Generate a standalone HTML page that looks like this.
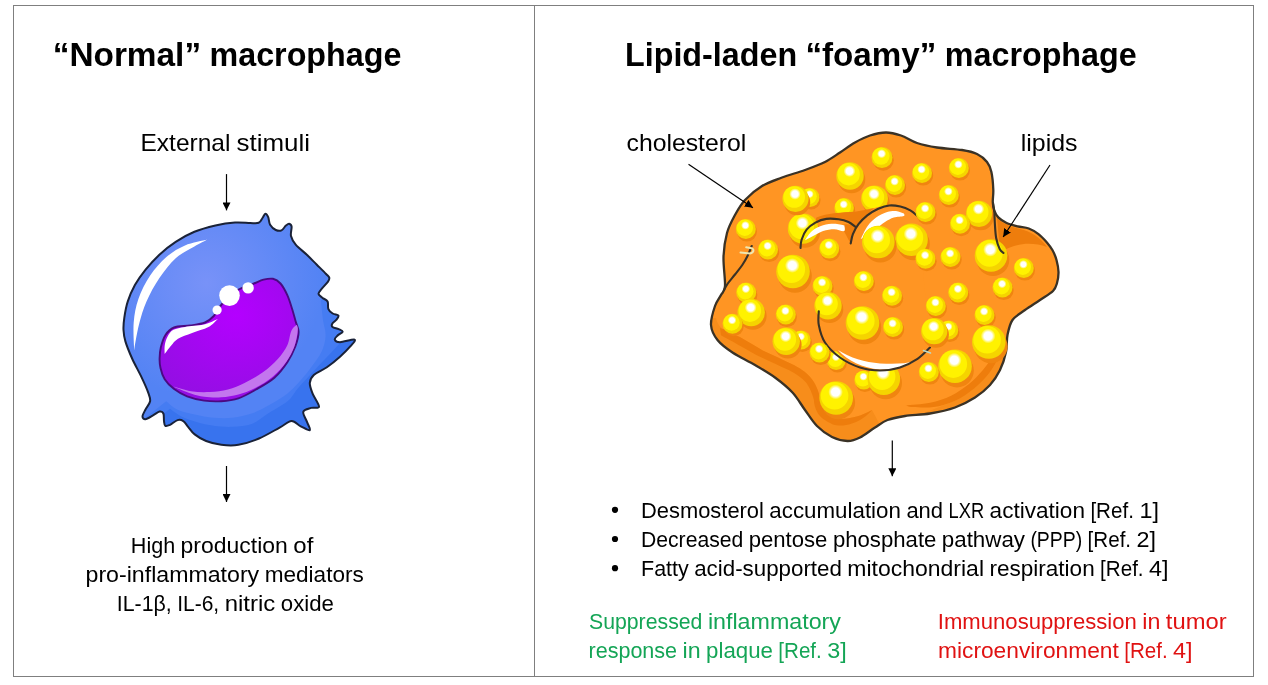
<!DOCTYPE html>
<html lang="en">
<head>
<meta charset="utf-8">
<title>Normal vs lipid-laden foamy macrophage</title>
<style>
html,body{margin:0;padding:0;background:#fff;}
body{width:1268px;height:685px;overflow:hidden;}
svg{display:block;}
text{font-family:"Liberation Sans",Arial,sans-serif;fill:#000;}
.t{font-weight:bold;font-size:33px;}
.l{font-size:24px;}
.b{font-size:21.2px;}
.g{fill:#14a556;}
.r{fill:#e01212;}
</style>
</head>
<body>
<svg width="1268" height="685" viewBox="0 0 1268 685">
<defs>
<radialGradient id="cellg" cx="0.36" cy="0.3" r="0.5"><stop offset="0" stop-color="#7892f8"/><stop offset="1" stop-color="#5383f4"/></radialGradient>
<radialGradient id="nucg" cx="0.55" cy="0.3" r="0.8"><stop offset="0" stop-color="#b400ff"/><stop offset="1" stop-color="#9010e0"/></radialGradient>
<radialGradient id="wh" cx="0.5" cy="0.5" r="0.5"><stop offset="0.55" stop-color="#fff"/><stop offset="1" stop-color="#fff" stop-opacity="0"/></radialGradient>
<marker id="ah" viewBox="0 0 10 10" refX="10" refY="5" markerWidth="8" markerHeight="8" markerUnits="userSpaceOnUse" orient="auto"><path d="M0 0L10 5L0 10Z" fill="#000"/></marker>
</defs>
<rect width="1268" height="685" fill="#fff"/>
<rect x="13.5" y="5.5" width="1240" height="671" fill="none" stroke="#7f7f7f" stroke-width="1"/>
<line x1="534.5" y1="5.5" x2="534.5" y2="676.5" stroke="#7f7f7f" stroke-width="1"/>
<text class="t" y="66"><tspan x="52.7" textLength="148.4" lengthAdjust="spacingAndGlyphs">“Normal”</tspan> <tspan x="209.5" textLength="191.9" lengthAdjust="spacingAndGlyphs">macrophage</tspan></text>
<text class="l" y="150.7"><tspan x="140.5" textLength="89.9" lengthAdjust="spacingAndGlyphs">External</tspan> <tspan x="236.5" textLength="73.5" lengthAdjust="spacingAndGlyphs">stimuli</tspan></text>
<text class="b" y="553"><tspan x="130.8" textLength="44.4" lengthAdjust="spacingAndGlyphs">High</tspan> <tspan x="180.6" textLength="107.2" lengthAdjust="spacingAndGlyphs">production</tspan> <tspan x="293.3" textLength="20.0" lengthAdjust="spacingAndGlyphs">of</tspan></text>
<text class="b" y="581.8"><tspan x="85.5" textLength="173.7" lengthAdjust="spacingAndGlyphs">pro-inflammatory</tspan> <tspan x="264.7" textLength="99.1" lengthAdjust="spacingAndGlyphs">mediators</tspan></text>
<text class="b" y="610.6"><tspan x="116.8" textLength="54.9" lengthAdjust="spacingAndGlyphs">IL-1β,</tspan> <tspan x="177.2" textLength="42.0" lengthAdjust="spacingAndGlyphs">IL-6,</tspan> <tspan x="224.7" textLength="50.6" lengthAdjust="spacingAndGlyphs">nitric</tspan> <tspan x="280.8" textLength="53.1" lengthAdjust="spacingAndGlyphs">oxide</tspan></text>
<text class="t" y="66"><tspan x="625.0" textLength="172.1" lengthAdjust="spacingAndGlyphs">Lipid-laden</tspan> <tspan x="805.5" textLength="130.8" lengthAdjust="spacingAndGlyphs">“foamy”</tspan> <tspan x="944.8" textLength="191.9" lengthAdjust="spacingAndGlyphs">macrophage</tspan></text>
<text class="l" y="150.7"><tspan x="626.5" textLength="119.8" lengthAdjust="spacingAndGlyphs">cholesterol</tspan></text>
<text class="l" y="150.7"><tspan x="1020.8" textLength="56.8" lengthAdjust="spacingAndGlyphs">lipids</tspan></text>
<text class="b" y="518"><tspan x="641.0" textLength="122.9" lengthAdjust="spacingAndGlyphs">Desmosterol</tspan> <tspan x="769.3" textLength="131.6" lengthAdjust="spacingAndGlyphs">accumulation</tspan> <tspan x="906.4" textLength="36.7" lengthAdjust="spacingAndGlyphs">and</tspan> <tspan x="948.5" textLength="35.6" lengthAdjust="spacingAndGlyphs">LXR</tspan> <tspan x="989.6" textLength="95.4" lengthAdjust="spacingAndGlyphs">activation</tspan> <tspan x="1090.4" textLength="43.5" lengthAdjust="spacingAndGlyphs">[Ref.</tspan> <tspan x="1139.4" textLength="19.5" lengthAdjust="spacingAndGlyphs">1]</tspan></text>
<text class="b" y="546.9"><tspan x="641.0" textLength="102.3" lengthAdjust="spacingAndGlyphs">Decreased</tspan> <tspan x="748.7" textLength="78.7" lengthAdjust="spacingAndGlyphs">pentose</tspan> <tspan x="832.9" textLength="103.5" lengthAdjust="spacingAndGlyphs">phosphate</tspan> <tspan x="941.8" textLength="83.2" lengthAdjust="spacingAndGlyphs">pathway</tspan> <tspan x="1030.4" textLength="51.8" lengthAdjust="spacingAndGlyphs">(PPP)</tspan> <tspan x="1087.6" textLength="43.5" lengthAdjust="spacingAndGlyphs">[Ref.</tspan> <tspan x="1136.5" textLength="19.5" lengthAdjust="spacingAndGlyphs">2]</tspan></text>
<text class="b" y="575.8"><tspan x="641.0" textLength="47.8" lengthAdjust="spacingAndGlyphs">Fatty</tspan> <tspan x="694.2" textLength="147.7" lengthAdjust="spacingAndGlyphs">acid-supported</tspan> <tspan x="847.3" textLength="136.7" lengthAdjust="spacingAndGlyphs">mitochondrial</tspan> <tspan x="989.4" textLength="105.3" lengthAdjust="spacingAndGlyphs">respiration</tspan> <tspan x="1100.1" textLength="43.5" lengthAdjust="spacingAndGlyphs">[Ref.</tspan> <tspan x="1149.1" textLength="19.5" lengthAdjust="spacingAndGlyphs">4]</tspan></text>
<text class="b g" y="628.7"><tspan x="589.0" textLength="113.4" lengthAdjust="spacingAndGlyphs">Suppressed</tspan> <tspan x="707.9" textLength="133.1" lengthAdjust="spacingAndGlyphs">inflammatory</tspan></text>
<text class="b g" y="657.5"><tspan x="588.5" textLength="88.6" lengthAdjust="spacingAndGlyphs">response</tspan> <tspan x="682.5" textLength="18.1" lengthAdjust="spacingAndGlyphs">in</tspan> <tspan x="706.1" textLength="66.8" lengthAdjust="spacingAndGlyphs">plaque</tspan> <tspan x="778.3" textLength="43.5" lengthAdjust="spacingAndGlyphs">[Ref.</tspan> <tspan x="827.2" textLength="19.5" lengthAdjust="spacingAndGlyphs">3]</tspan></text>
<text class="b r" y="628.7"><tspan x="937.8" textLength="199.0" lengthAdjust="spacingAndGlyphs">Immunosuppression</tspan> <tspan x="1142.3" textLength="18.1" lengthAdjust="spacingAndGlyphs">in</tspan> <tspan x="1165.8" textLength="60.8" lengthAdjust="spacingAndGlyphs">tumor</tspan></text>
<text class="b r" y="657.5"><tspan x="938.0" textLength="180.8" lengthAdjust="spacingAndGlyphs">microenvironment</tspan> <tspan x="1124.2" textLength="43.5" lengthAdjust="spacingAndGlyphs">[Ref.</tspan> <tspan x="1173.1" textLength="19.5" lengthAdjust="spacingAndGlyphs">4]</tspan></text>
<circle cx="615" cy="509.8" r="3.1" fill="#000"/>
<circle cx="615" cy="539" r="3.1" fill="#000"/>
<circle cx="615" cy="568.2" r="3.1" fill="#000"/>
<g id="normal-macrophage">
<path d="M123.5 330.0C123.3 326.1 123.6 322.6 124.3 317.8C125.0 313.0 126.0 306.8 127.8 301.4C129.6 295.9 132.0 290.4 134.9 285.1C137.8 279.9 141.3 275.0 145.4 269.9C149.5 264.8 154.4 259.4 159.4 254.7C164.4 250.0 169.9 245.7 175.7 241.9C181.5 238.1 187.8 234.5 194.4 231.8C201.0 229.1 208.6 227.1 215.4 225.5C222.2 223.9 229.2 222.9 235.0 222.5C240.8 222.1 246.2 222.9 250.2 223.0C254.1 223.1 256.6 223.6 258.7 222.8C260.8 222.0 261.4 219.5 262.5 218.0C263.6 216.5 264.4 213.8 265.4 213.7C266.3 213.5 267.4 215.3 268.2 217.1C269.0 218.9 268.8 222.5 270.1 224.7C271.4 226.8 273.9 229.1 275.8 230.0C277.7 230.9 279.8 231.1 281.5 230.4C283.2 229.7 284.6 226.7 285.9 225.6C287.2 224.5 288.2 223.5 289.1 223.7C290.1 223.9 291.3 224.5 291.6 226.6C291.9 228.7 290.3 233.1 291.0 236.1C291.7 239.1 293.0 241.4 295.7 244.6C298.4 247.8 303.6 251.7 307.1 255.0C310.6 258.3 313.4 261.3 316.6 264.5C319.8 267.7 324.0 271.8 326.1 274.0C328.2 276.2 329.0 276.5 329.3 277.8C329.6 279.1 329.3 279.7 328.0 281.6C326.7 283.5 323.0 287.1 321.4 289.2C319.8 291.2 318.4 292.5 318.5 293.9C318.6 295.3 320.8 296.4 322.3 297.7C323.8 299.0 326.6 299.6 327.6 301.5C328.6 303.4 327.5 307.1 328.4 309.1C329.2 311.1 331.0 312.4 332.7 313.5C334.4 314.6 337.8 314.5 338.4 315.5C339.0 316.5 337.5 318.3 336.5 319.6C335.5 320.9 333.1 322.3 332.4 323.5C331.7 324.7 331.4 326.1 332.5 327.0C333.6 327.9 337.0 328.3 338.7 329.1C340.4 329.9 342.9 330.6 342.7 331.7C342.5 332.8 338.7 334.4 337.4 335.7C336.1 337.0 334.4 338.5 334.8 339.6C335.2 340.7 336.7 342.2 340.0 342.2C343.3 342.2 352.8 338.9 354.5 339.6C356.2 340.3 352.9 343.4 350.5 346.2C348.1 349.0 343.9 353.2 340.0 356.7C336.1 360.2 331.3 364.1 326.9 367.2C322.5 370.2 316.6 372.4 313.8 375.0C311.0 377.6 310.0 379.8 309.8 382.9C309.6 386.0 311.0 389.4 312.5 393.4C314.0 397.3 319.2 404.2 319.0 406.6C318.8 409.0 313.8 407.0 311.2 407.9C308.6 408.8 304.0 409.4 303.3 411.8C302.6 414.2 306.1 419.2 307.2 422.3C308.3 425.4 310.9 429.5 309.8 430.2C308.7 430.9 303.8 427.8 300.7 426.3C297.6 424.8 295.0 420.8 291.5 421.0C288.0 421.2 285.0 424.7 279.6 427.6C274.2 430.5 265.9 435.6 259.0 438.5C252.1 441.4 244.7 443.8 238.4 444.8C232.1 445.9 226.7 445.4 221.3 444.8C215.9 444.2 210.5 442.7 206.1 441.0C201.7 439.3 197.7 436.8 194.7 434.4C191.7 432.0 190.0 429.0 188.1 426.8C186.2 424.6 185.1 422.2 183.3 421.1C181.6 420.0 179.8 419.5 177.6 420.1C175.4 420.7 172.1 423.9 170.0 424.9C167.9 425.8 166.3 426.4 165.3 425.8C164.3 425.2 164.3 423.2 164.0 421.1C163.7 419.1 164.1 415.1 163.4 413.5C162.7 411.9 161.3 411.3 159.6 411.6C157.9 411.9 155.4 414.1 153.0 415.4C150.6 416.7 147.2 419.0 145.4 419.2C143.7 419.4 142.5 418.0 142.5 416.4C142.5 414.8 144.1 412.2 145.4 409.7C146.7 407.2 149.6 404.0 150.1 401.2C150.6 398.4 149.6 396.6 148.2 392.6C146.8 388.6 144.3 383.1 141.6 377.4C138.9 371.7 134.8 364.5 132.1 358.5C129.4 352.5 126.8 346.1 125.4 341.4C124.0 336.6 123.7 333.9 123.5 330.0Z" fill="url(#cellg)"/>
<clipPath id="cc"><path d="M123.5 330.0C123.3 326.1 123.6 322.6 124.3 317.8C125.0 313.0 126.0 306.8 127.8 301.4C129.6 295.9 132.0 290.4 134.9 285.1C137.8 279.9 141.3 275.0 145.4 269.9C149.5 264.8 154.4 259.4 159.4 254.7C164.4 250.0 169.9 245.7 175.7 241.9C181.5 238.1 187.8 234.5 194.4 231.8C201.0 229.1 208.6 227.1 215.4 225.5C222.2 223.9 229.2 222.9 235.0 222.5C240.8 222.1 246.2 222.9 250.2 223.0C254.1 223.1 256.6 223.6 258.7 222.8C260.8 222.0 261.4 219.5 262.5 218.0C263.6 216.5 264.4 213.8 265.4 213.7C266.3 213.5 267.4 215.3 268.2 217.1C269.0 218.9 268.8 222.5 270.1 224.7C271.4 226.8 273.9 229.1 275.8 230.0C277.7 230.9 279.8 231.1 281.5 230.4C283.2 229.7 284.6 226.7 285.9 225.6C287.2 224.5 288.2 223.5 289.1 223.7C290.1 223.9 291.3 224.5 291.6 226.6C291.9 228.7 290.3 233.1 291.0 236.1C291.7 239.1 293.0 241.4 295.7 244.6C298.4 247.8 303.6 251.7 307.1 255.0C310.6 258.3 313.4 261.3 316.6 264.5C319.8 267.7 324.0 271.8 326.1 274.0C328.2 276.2 329.0 276.5 329.3 277.8C329.6 279.1 329.3 279.7 328.0 281.6C326.7 283.5 323.0 287.1 321.4 289.2C319.8 291.2 318.4 292.5 318.5 293.9C318.6 295.3 320.8 296.4 322.3 297.7C323.8 299.0 326.6 299.6 327.6 301.5C328.6 303.4 327.5 307.1 328.4 309.1C329.2 311.1 331.0 312.4 332.7 313.5C334.4 314.6 337.8 314.5 338.4 315.5C339.0 316.5 337.5 318.3 336.5 319.6C335.5 320.9 333.1 322.3 332.4 323.5C331.7 324.7 331.4 326.1 332.5 327.0C333.6 327.9 337.0 328.3 338.7 329.1C340.4 329.9 342.9 330.6 342.7 331.7C342.5 332.8 338.7 334.4 337.4 335.7C336.1 337.0 334.4 338.5 334.8 339.6C335.2 340.7 336.7 342.2 340.0 342.2C343.3 342.2 352.8 338.9 354.5 339.6C356.2 340.3 352.9 343.4 350.5 346.2C348.1 349.0 343.9 353.2 340.0 356.7C336.1 360.2 331.3 364.1 326.9 367.2C322.5 370.2 316.6 372.4 313.8 375.0C311.0 377.6 310.0 379.8 309.8 382.9C309.6 386.0 311.0 389.4 312.5 393.4C314.0 397.3 319.2 404.2 319.0 406.6C318.8 409.0 313.8 407.0 311.2 407.9C308.6 408.8 304.0 409.4 303.3 411.8C302.6 414.2 306.1 419.2 307.2 422.3C308.3 425.4 310.9 429.5 309.8 430.2C308.7 430.9 303.8 427.8 300.7 426.3C297.6 424.8 295.0 420.8 291.5 421.0C288.0 421.2 285.0 424.7 279.6 427.6C274.2 430.5 265.9 435.6 259.0 438.5C252.1 441.4 244.7 443.8 238.4 444.8C232.1 445.9 226.7 445.4 221.3 444.8C215.9 444.2 210.5 442.7 206.1 441.0C201.7 439.3 197.7 436.8 194.7 434.4C191.7 432.0 190.0 429.0 188.1 426.8C186.2 424.6 185.1 422.2 183.3 421.1C181.6 420.0 179.8 419.5 177.6 420.1C175.4 420.7 172.1 423.9 170.0 424.9C167.9 425.8 166.3 426.4 165.3 425.8C164.3 425.2 164.3 423.2 164.0 421.1C163.7 419.1 164.1 415.1 163.4 413.5C162.7 411.9 161.3 411.3 159.6 411.6C157.9 411.9 155.4 414.1 153.0 415.4C150.6 416.7 147.2 419.0 145.4 419.2C143.7 419.4 142.5 418.0 142.5 416.4C142.5 414.8 144.1 412.2 145.4 409.7C146.7 407.2 149.6 404.0 150.1 401.2C150.6 398.4 149.6 396.6 148.2 392.6C146.8 388.6 144.3 383.1 141.6 377.4C138.9 371.7 134.8 364.5 132.1 358.5C129.4 352.5 126.8 346.1 125.4 341.4C124.0 336.6 123.7 333.9 123.5 330.0Z"/></clipPath>
<path clip-path="url(#cc)" d="M321.0 300.0C321.3 303.3 322.2 314.1 323.0 320.0C323.8 325.9 325.8 330.5 325.6 335.7C325.4 340.9 324.1 346.1 321.7 351.4C319.3 356.6 314.7 362.4 311.2 367.2C307.7 372.0 304.6 375.9 300.7 380.3C296.8 384.7 293.2 389.0 287.5 393.4C281.8 397.8 272.5 403.2 266.5 406.6C260.5 410.0 257.3 411.6 251.7 413.5C246.1 415.4 239.0 417.0 232.7 417.7C226.4 418.4 220.0 418.2 213.7 417.7C207.4 417.2 200.7 415.8 194.7 414.5C188.7 413.2 182.3 411.9 177.6 409.7C172.8 407.5 168.1 402.6 166.2 401.2L130 430L230 470L340 450L380 330L340 290Z" fill="#457cf2"/>
<path clip-path="url(#cc)" d="M345.0 338.0C343.3 339.8 340.0 343.3 334.8 348.8C329.6 354.3 319.9 364.5 313.8 371.1C307.7 377.7 302.4 383.2 298.0 388.2C293.6 393.2 292.8 396.9 287.5 401.3C282.2 405.7 272.5 410.6 266.5 414.4C260.5 418.2 257.3 421.9 251.7 424.0C246.1 426.1 239.0 426.5 232.7 426.8C226.4 427.1 219.7 426.6 213.7 425.8C207.7 425.0 202.0 423.6 196.6 422.0C191.2 420.4 185.8 418.6 181.4 416.4C177.0 414.2 171.9 410.1 170.0 408.8L130 440L230 470L340 450L380 330Z" fill="#3873ee"/>
<path d="M123.5 330.0C123.3 326.1 123.6 322.6 124.3 317.8C125.0 313.0 126.0 306.8 127.8 301.4C129.6 295.9 132.0 290.4 134.9 285.1C137.8 279.9 141.3 275.0 145.4 269.9C149.5 264.8 154.4 259.4 159.4 254.7C164.4 250.0 169.9 245.7 175.7 241.9C181.5 238.1 187.8 234.5 194.4 231.8C201.0 229.1 208.6 227.1 215.4 225.5C222.2 223.9 229.2 222.9 235.0 222.5C240.8 222.1 246.2 222.9 250.2 223.0C254.1 223.1 256.6 223.6 258.7 222.8C260.8 222.0 261.4 219.5 262.5 218.0C263.6 216.5 264.4 213.8 265.4 213.7C266.3 213.5 267.4 215.3 268.2 217.1C269.0 218.9 268.8 222.5 270.1 224.7C271.4 226.8 273.9 229.1 275.8 230.0C277.7 230.9 279.8 231.1 281.5 230.4C283.2 229.7 284.6 226.7 285.9 225.6C287.2 224.5 288.2 223.5 289.1 223.7C290.1 223.9 291.3 224.5 291.6 226.6C291.9 228.7 290.3 233.1 291.0 236.1C291.7 239.1 293.0 241.4 295.7 244.6C298.4 247.8 303.6 251.7 307.1 255.0C310.6 258.3 313.4 261.3 316.6 264.5C319.8 267.7 324.0 271.8 326.1 274.0C328.2 276.2 329.0 276.5 329.3 277.8C329.6 279.1 329.3 279.7 328.0 281.6C326.7 283.5 323.0 287.1 321.4 289.2C319.8 291.2 318.4 292.5 318.5 293.9C318.6 295.3 320.8 296.4 322.3 297.7C323.8 299.0 326.6 299.6 327.6 301.5C328.6 303.4 327.5 307.1 328.4 309.1C329.2 311.1 331.0 312.4 332.7 313.5C334.4 314.6 337.8 314.5 338.4 315.5C339.0 316.5 337.5 318.3 336.5 319.6C335.5 320.9 333.1 322.3 332.4 323.5C331.7 324.7 331.4 326.1 332.5 327.0C333.6 327.9 337.0 328.3 338.7 329.1C340.4 329.9 342.9 330.6 342.7 331.7C342.5 332.8 338.7 334.4 337.4 335.7C336.1 337.0 334.4 338.5 334.8 339.6C335.2 340.7 336.7 342.2 340.0 342.2C343.3 342.2 352.8 338.9 354.5 339.6C356.2 340.3 352.9 343.4 350.5 346.2C348.1 349.0 343.9 353.2 340.0 356.7C336.1 360.2 331.3 364.1 326.9 367.2C322.5 370.2 316.6 372.4 313.8 375.0C311.0 377.6 310.0 379.8 309.8 382.9C309.6 386.0 311.0 389.4 312.5 393.4C314.0 397.3 319.2 404.2 319.0 406.6C318.8 409.0 313.8 407.0 311.2 407.9C308.6 408.8 304.0 409.4 303.3 411.8C302.6 414.2 306.1 419.2 307.2 422.3C308.3 425.4 310.9 429.5 309.8 430.2C308.7 430.9 303.8 427.8 300.7 426.3C297.6 424.8 295.0 420.8 291.5 421.0C288.0 421.2 285.0 424.7 279.6 427.6C274.2 430.5 265.9 435.6 259.0 438.5C252.1 441.4 244.7 443.8 238.4 444.8C232.1 445.9 226.7 445.4 221.3 444.8C215.9 444.2 210.5 442.7 206.1 441.0C201.7 439.3 197.7 436.8 194.7 434.4C191.7 432.0 190.0 429.0 188.1 426.8C186.2 424.6 185.1 422.2 183.3 421.1C181.6 420.0 179.8 419.5 177.6 420.1C175.4 420.7 172.1 423.9 170.0 424.9C167.9 425.8 166.3 426.4 165.3 425.8C164.3 425.2 164.3 423.2 164.0 421.1C163.7 419.1 164.1 415.1 163.4 413.5C162.7 411.9 161.3 411.3 159.6 411.6C157.9 411.9 155.4 414.1 153.0 415.4C150.6 416.7 147.2 419.0 145.4 419.2C143.7 419.4 142.5 418.0 142.5 416.4C142.5 414.8 144.1 412.2 145.4 409.7C146.7 407.2 149.6 404.0 150.1 401.2C150.6 398.4 149.6 396.6 148.2 392.6C146.8 388.6 144.3 383.1 141.6 377.4C138.9 371.7 134.8 364.5 132.1 358.5C129.4 352.5 126.8 346.1 125.4 341.4C124.0 336.6 123.7 333.9 123.5 330.0Z" fill="none" stroke="#1a2238" stroke-width="2" stroke-linejoin="round"/>
<path d="M207.3 239.5C203.6 240.5 191.8 242.5 185.0 245.4C178.2 248.3 172.2 251.9 166.4 257.0C160.6 262.1 154.7 268.7 150.0 275.7C145.3 282.7 141.1 291.2 138.4 299.0C135.7 306.8 134.4 313.9 133.7 322.5C133.0 331.1 134.1 345.8 134.2 350.5C134.4 348.9 134.7 345.7 135.6 341.0C136.5 336.3 137.7 329.1 139.5 322.5C141.3 315.9 143.2 308.8 146.5 301.4C149.8 294.0 154.5 285.2 159.4 278.0C164.3 270.8 169.9 263.4 175.7 258.2C181.5 252.9 189.1 249.6 194.4 246.5C199.7 243.4 205.2 240.7 207.3 239.5Z" fill="#fff"/>
<path d="M159.6 358.5C159.7 355.1 159.8 351.4 160.8 347.5C161.8 343.6 163.3 338.3 165.5 335.0C167.7 331.7 169.9 329.1 174.0 327.5C178.1 325.9 184.8 326.3 190.0 325.5C195.2 324.7 201.0 324.1 205.0 322.5C209.0 320.9 210.9 319.1 213.8 316.0C216.6 312.9 218.3 308.2 222.0 304.0C225.7 299.8 230.7 294.4 236.0 291.0C241.3 287.6 249.4 285.4 254.0 283.5C258.6 281.6 260.3 280.5 263.5 279.7C266.7 278.9 270.2 278.2 273.0 278.8C275.8 279.4 278.1 280.8 280.5 283.5C282.9 286.2 285.3 290.8 287.2 294.9C289.1 299.0 290.5 303.8 291.9 308.2C293.3 312.6 294.6 317.5 295.7 321.5C296.8 325.5 298.7 327.9 298.6 332.0C298.6 336.1 297.2 341.2 295.4 346.2C293.5 351.2 291.0 356.6 287.5 361.9C284.0 367.1 279.6 373.1 274.4 377.7C269.1 382.3 262.0 386.1 256.0 389.5C250.0 392.9 244.2 396.4 238.4 398.3C232.6 400.2 227.0 400.8 221.3 401.2C215.6 401.6 209.9 401.4 204.2 400.6C198.5 399.8 192.2 398.4 187.1 396.4C182.0 394.4 177.5 391.6 173.8 388.8C170.1 386.0 166.9 382.8 164.7 379.3C162.5 375.8 161.3 371.5 160.5 368.0C159.7 364.5 159.5 361.9 159.6 358.5Z" fill="url(#nucg)" stroke="#4a0a82" stroke-width="1.9"/>
<clipPath id="nc"><path d="M159.6 358.5C159.7 355.1 159.8 351.4 160.8 347.5C161.8 343.6 163.3 338.3 165.5 335.0C167.7 331.7 169.9 329.1 174.0 327.5C178.1 325.9 184.8 326.3 190.0 325.5C195.2 324.7 201.0 324.1 205.0 322.5C209.0 320.9 210.9 319.1 213.8 316.0C216.6 312.9 218.3 308.2 222.0 304.0C225.7 299.8 230.7 294.4 236.0 291.0C241.3 287.6 249.4 285.4 254.0 283.5C258.6 281.6 260.3 280.5 263.5 279.7C266.7 278.9 270.2 278.2 273.0 278.8C275.8 279.4 278.1 280.8 280.5 283.5C282.9 286.2 285.3 290.8 287.2 294.9C289.1 299.0 290.5 303.8 291.9 308.2C293.3 312.6 294.6 317.5 295.7 321.5C296.8 325.5 298.7 327.9 298.6 332.0C298.6 336.1 297.2 341.2 295.4 346.2C293.5 351.2 291.0 356.6 287.5 361.9C284.0 367.1 279.6 373.1 274.4 377.7C269.1 382.3 262.0 386.1 256.0 389.5C250.0 392.9 244.2 396.4 238.4 398.3C232.6 400.2 227.0 400.8 221.3 401.2C215.6 401.6 209.9 401.4 204.2 400.6C198.5 399.8 192.2 398.4 187.1 396.4C182.0 394.4 177.5 391.6 173.8 388.8C170.1 386.0 166.9 382.8 164.7 379.3C162.5 375.8 161.3 371.5 160.5 368.0C159.7 364.5 159.5 361.9 159.6 358.5Z"/></clipPath>
<path clip-path="url(#nc)" d="M297.8 324.0C297.8 325.5 298.1 329.1 297.5 333.0C296.9 336.9 295.9 342.7 294.0 347.5C292.1 352.3 289.7 357.1 286.2 361.9C282.7 366.7 278.2 372.0 273.0 376.4C267.8 380.8 260.5 385.2 254.7 388.2C248.9 391.2 244.0 392.9 238.4 394.4C232.8 395.9 227.0 396.9 221.3 397.3C215.6 397.7 209.3 397.4 204.2 396.8C199.1 396.2 196.3 395.3 190.9 393.5C185.5 391.7 175.1 387.2 171.9 386.0C175.1 386.9 184.6 390.2 190.9 391.2C197.2 392.2 203.7 392.3 209.9 392.0C216.1 391.7 222.2 391.0 228.0 389.5C233.8 388.0 238.8 385.8 244.5 383.0C250.2 380.2 256.9 376.6 262.5 372.6C268.1 368.6 273.7 363.5 277.8 359.0C281.9 354.5 284.9 350.3 287.2 345.5C289.5 340.7 289.7 334.0 291.5 330.4C293.3 326.8 296.8 325.1 297.8 324.0Z" fill="#c376ee"/>
<path d="M217.8 319.0C215.5 319.9 209.3 323.3 203.8 324.6C198.3 325.9 190.1 326.0 185.0 326.9C179.9 327.8 176.3 328.2 173.4 329.8C170.5 331.4 169.0 334.0 167.6 336.5C166.2 339.0 165.3 342.1 164.8 345.0C164.3 347.9 164.7 352.5 164.7 354.0C165.8 352.6 168.8 348.3 171.0 345.8C173.2 343.3 174.5 340.9 178.0 338.8C181.5 336.7 187.0 334.9 192.1 333.0C197.2 331.1 204.1 329.4 208.4 327.1C212.7 324.8 216.2 320.4 217.8 319.0Z" fill="#fff"/>
<circle cx="229.5" cy="295.6" r="10.3" fill="#fff"/>
<circle cx="248.1" cy="287.9" r="5.7" fill="#fff"/>
<circle cx="217.1" cy="310.1" r="4.6" fill="#fff"/>
</g>
<g id="foamy-macrophage">
<path d="M725.0 286.0C725.4 279.7 723.2 265.8 723.5 257.0C723.8 248.2 725.1 240.0 727.0 233.0C728.9 226.0 732.0 220.5 735.0 215.0C738.0 209.5 740.5 204.8 745.0 200.0C749.5 195.2 755.8 189.8 762.0 186.0C768.2 182.2 774.8 180.2 782.0 177.5C789.2 174.8 797.8 172.6 805.0 170.0C812.2 167.4 819.2 164.9 825.0 162.0C830.8 159.1 835.0 155.8 840.0 152.5C845.0 149.2 850.0 145.3 855.0 142.5C860.0 139.7 864.8 137.2 870.0 135.5C875.2 133.8 880.8 132.5 886.0 132.5C891.2 132.5 895.8 133.8 901.0 135.5C906.2 137.2 911.0 141.0 917.0 143.0C923.0 145.0 929.5 146.3 937.0 147.5C944.5 148.7 955.3 148.9 962.0 150.0C968.7 151.1 972.8 152.0 977.0 154.0C981.2 156.0 984.6 159.0 987.0 162.0C989.4 165.0 990.4 167.4 991.4 172.0C992.4 176.6 993.1 184.7 993.3 189.7C993.5 194.7 992.6 198.7 992.8 202.2C992.9 205.7 993.3 208.0 994.2 210.5C995.1 213.0 996.2 215.3 998.3 217.4C1000.4 219.5 1003.4 221.5 1006.6 223.0C1009.8 224.5 1014.0 225.5 1017.7 226.4C1021.4 227.3 1025.3 227.2 1028.8 228.5C1032.3 229.8 1035.5 231.8 1038.5 234.1C1041.5 236.4 1044.6 239.8 1046.9 242.4C1049.2 245.1 1050.8 247.1 1052.4 250.0C1054.0 252.9 1055.5 256.3 1056.5 260.0C1057.5 263.7 1058.4 268.2 1058.5 272.0C1058.6 275.8 1057.9 279.8 1057.0 283.0C1056.1 286.2 1055.8 288.2 1053.0 291.0C1050.2 293.8 1044.7 296.8 1040.0 300.0C1035.3 303.2 1029.6 306.7 1025.0 310.0C1020.4 313.3 1015.4 315.8 1012.5 320.0C1009.6 324.2 1008.6 329.7 1007.5 335.0C1006.4 340.3 1007.2 346.2 1006.0 352.0C1004.8 357.8 1002.7 364.5 1000.0 370.0C997.3 375.5 994.2 380.4 990.0 385.0C985.8 389.6 980.8 393.8 975.0 397.5C969.2 401.2 962.5 404.8 955.0 407.5C947.5 410.2 938.3 412.1 930.0 413.5C921.7 414.9 912.1 414.9 905.0 416.0C897.9 417.1 892.5 418.1 887.5 420.0C882.5 421.9 879.6 424.6 875.0 427.5C870.4 430.4 864.6 435.2 860.0 437.5C855.4 439.8 852.2 441.1 847.5 441.0C842.8 440.9 837.1 439.5 832.0 437.0C826.9 434.5 821.5 430.5 817.0 426.0C812.5 421.5 809.1 415.6 805.0 410.0C800.9 404.4 797.5 397.9 792.5 392.5C787.5 387.1 781.2 382.1 775.0 377.5C768.8 372.9 762.1 369.2 755.0 365.0C747.9 360.8 738.8 356.7 732.5 352.5C726.2 348.3 721.1 344.6 717.5 340.0C713.9 335.4 711.4 330.7 711.0 325.0C710.6 319.3 713.3 311.0 715.0 306.0C716.7 301.0 719.3 298.3 721.0 295.0C722.7 291.7 724.6 292.3 725.0 286.0Z" fill="#ff9523"/>
<clipPath id="fc"><path d="M725.0 286.0C725.4 279.7 723.2 265.8 723.5 257.0C723.8 248.2 725.1 240.0 727.0 233.0C728.9 226.0 732.0 220.5 735.0 215.0C738.0 209.5 740.5 204.8 745.0 200.0C749.5 195.2 755.8 189.8 762.0 186.0C768.2 182.2 774.8 180.2 782.0 177.5C789.2 174.8 797.8 172.6 805.0 170.0C812.2 167.4 819.2 164.9 825.0 162.0C830.8 159.1 835.0 155.8 840.0 152.5C845.0 149.2 850.0 145.3 855.0 142.5C860.0 139.7 864.8 137.2 870.0 135.5C875.2 133.8 880.8 132.5 886.0 132.5C891.2 132.5 895.8 133.8 901.0 135.5C906.2 137.2 911.0 141.0 917.0 143.0C923.0 145.0 929.5 146.3 937.0 147.5C944.5 148.7 955.3 148.9 962.0 150.0C968.7 151.1 972.8 152.0 977.0 154.0C981.2 156.0 984.6 159.0 987.0 162.0C989.4 165.0 990.4 167.4 991.4 172.0C992.4 176.6 993.1 184.7 993.3 189.7C993.5 194.7 992.6 198.7 992.8 202.2C992.9 205.7 993.3 208.0 994.2 210.5C995.1 213.0 996.2 215.3 998.3 217.4C1000.4 219.5 1003.4 221.5 1006.6 223.0C1009.8 224.5 1014.0 225.5 1017.7 226.4C1021.4 227.3 1025.3 227.2 1028.8 228.5C1032.3 229.8 1035.5 231.8 1038.5 234.1C1041.5 236.4 1044.6 239.8 1046.9 242.4C1049.2 245.1 1050.8 247.1 1052.4 250.0C1054.0 252.9 1055.5 256.3 1056.5 260.0C1057.5 263.7 1058.4 268.2 1058.5 272.0C1058.6 275.8 1057.9 279.8 1057.0 283.0C1056.1 286.2 1055.8 288.2 1053.0 291.0C1050.2 293.8 1044.7 296.8 1040.0 300.0C1035.3 303.2 1029.6 306.7 1025.0 310.0C1020.4 313.3 1015.4 315.8 1012.5 320.0C1009.6 324.2 1008.6 329.7 1007.5 335.0C1006.4 340.3 1007.2 346.2 1006.0 352.0C1004.8 357.8 1002.7 364.5 1000.0 370.0C997.3 375.5 994.2 380.4 990.0 385.0C985.8 389.6 980.8 393.8 975.0 397.5C969.2 401.2 962.5 404.8 955.0 407.5C947.5 410.2 938.3 412.1 930.0 413.5C921.7 414.9 912.1 414.9 905.0 416.0C897.9 417.1 892.5 418.1 887.5 420.0C882.5 421.9 879.6 424.6 875.0 427.5C870.4 430.4 864.6 435.2 860.0 437.5C855.4 439.8 852.2 441.1 847.5 441.0C842.8 440.9 837.1 439.5 832.0 437.0C826.9 434.5 821.5 430.5 817.0 426.0C812.5 421.5 809.1 415.6 805.0 410.0C800.9 404.4 797.5 397.9 792.5 392.5C787.5 387.1 781.2 382.1 775.0 377.5C768.8 372.9 762.1 369.2 755.0 365.0C747.9 360.8 738.8 356.7 732.5 352.5C726.2 348.3 721.1 344.6 717.5 340.0C713.9 335.4 711.4 330.7 711.0 325.0C710.6 319.3 713.3 311.0 715.0 306.0C716.7 301.0 719.3 298.3 721.0 295.0C722.7 291.7 724.6 292.3 725.0 286.0Z"/></clipPath>
<g clip-path="url(#fc)">
<path d="M716 318 C718 326 721 328 724.7 329.5 C730 333 735 335 739.9 337.1 C748 342 755 346 762.7 350.4 C772 355 782 359 791.1 363.7 C800 368 806 372 810.1 377 C816 384 818 390 819.6 396 C821 402 822 406 823.4 409.2 C827 414 831 417 836.7 418.7 C843 420 850 418 855.7 416.8 C862 415 867 413 872 410 L880 425 L860 450 L800 440 L700 360 L700 318 Z" fill="#f78d1b"/>
<path d="M910 419 C925 412 940 407 954.6 401 C962 397 968 393 973.9 388.7 C980 383 984 379 987.9 374.7 C992 370 995 365 996.7 360.7 L1000 350 L1020 350 L1010 420 L912 432 Z" fill="#f78d1b"/>
<path d="M720 328 C722 329 723 329 724.7 329.5 C730 333 735 335 739.9 337.1 C748 342 755 346 762.7 350.4 C772 355 782 359 791.1 363.7 C800 368 806 372 810.1 377 C816 384 818 390 819.6 396 C821 402 822 406 823.4 409.2 C827 414 831 417 836.7 418.7 C843 420 850 418 855.7 416.8 C862 415 867 413 872 410 C867 416 860 421 851.9 423.5 C845 426 838 426 832.9 424.4 C825 421 820 417 817.7 413 C815 408 814 404 813.9 399.7 C812 393 810 388 806.3 382.7 C802 378 796 374 789.2 370.3 C780 366 771 362 762.7 358 C754 354 746 349 738 344.7 C732 341 726 338 720.9 335.2 Z" fill="#ee7d0c"/>
<path d="M905.6 405.3C909.7 404.9 922.5 404.3 930.1 402.7C937.7 401.1 944.7 398.8 951.1 395.7C957.5 392.6 963.4 388.5 968.7 384.3C974.0 380.1 978.6 375.0 982.7 370.3C986.8 365.6 990.6 359.7 993.2 356.3C995.8 352.9 997.5 351.1 998.4 350.0C998.1 351.8 998.5 356.6 996.7 360.7C995.0 364.8 991.7 370.0 987.9 374.7C984.1 379.4 979.4 384.3 973.9 388.7C968.4 393.1 961.3 397.9 954.6 401.0C947.9 404.1 940.6 406.1 933.6 407.1C926.6 408.1 917.3 407.4 912.6 407.1C907.9 406.8 906.8 405.6 905.6 405.3Z" fill="#ee7d0c"/>
<path d="M997 218 C1003 224 1012 227 1020 229 C1030 231 1040 237 1047 247 C1036 243 1024 243 1014 246 C1008 248 1004 250 1000 251 Z" fill="#ee7d0c"/>
</g>
<path d="M725.0 286.0C725.4 279.7 723.2 265.8 723.5 257.0C723.8 248.2 725.1 240.0 727.0 233.0C728.9 226.0 732.0 220.5 735.0 215.0C738.0 209.5 740.5 204.8 745.0 200.0C749.5 195.2 755.8 189.8 762.0 186.0C768.2 182.2 774.8 180.2 782.0 177.5C789.2 174.8 797.8 172.6 805.0 170.0C812.2 167.4 819.2 164.9 825.0 162.0C830.8 159.1 835.0 155.8 840.0 152.5C845.0 149.2 850.0 145.3 855.0 142.5C860.0 139.7 864.8 137.2 870.0 135.5C875.2 133.8 880.8 132.5 886.0 132.5C891.2 132.5 895.8 133.8 901.0 135.5C906.2 137.2 911.0 141.0 917.0 143.0C923.0 145.0 929.5 146.3 937.0 147.5C944.5 148.7 955.3 148.9 962.0 150.0C968.7 151.1 972.8 152.0 977.0 154.0C981.2 156.0 984.6 159.0 987.0 162.0C989.4 165.0 990.4 167.4 991.4 172.0C992.4 176.6 993.1 184.7 993.3 189.7C993.5 194.7 992.6 198.7 992.8 202.2C992.9 205.7 993.3 208.0 994.2 210.5C995.1 213.0 996.2 215.3 998.3 217.4C1000.4 219.5 1003.4 221.5 1006.6 223.0C1009.8 224.5 1014.0 225.5 1017.7 226.4C1021.4 227.3 1025.3 227.2 1028.8 228.5C1032.3 229.8 1035.5 231.8 1038.5 234.1C1041.5 236.4 1044.6 239.8 1046.9 242.4C1049.2 245.1 1050.8 247.1 1052.4 250.0C1054.0 252.9 1055.5 256.3 1056.5 260.0C1057.5 263.7 1058.4 268.2 1058.5 272.0C1058.6 275.8 1057.9 279.8 1057.0 283.0C1056.1 286.2 1055.8 288.2 1053.0 291.0C1050.2 293.8 1044.7 296.8 1040.0 300.0C1035.3 303.2 1029.6 306.7 1025.0 310.0C1020.4 313.3 1015.4 315.8 1012.5 320.0C1009.6 324.2 1008.6 329.7 1007.5 335.0C1006.4 340.3 1007.2 346.2 1006.0 352.0C1004.8 357.8 1002.7 364.5 1000.0 370.0C997.3 375.5 994.2 380.4 990.0 385.0C985.8 389.6 980.8 393.8 975.0 397.5C969.2 401.2 962.5 404.8 955.0 407.5C947.5 410.2 938.3 412.1 930.0 413.5C921.7 414.9 912.1 414.9 905.0 416.0C897.9 417.1 892.5 418.1 887.5 420.0C882.5 421.9 879.6 424.6 875.0 427.5C870.4 430.4 864.6 435.2 860.0 437.5C855.4 439.8 852.2 441.1 847.5 441.0C842.8 440.9 837.1 439.5 832.0 437.0C826.9 434.5 821.5 430.5 817.0 426.0C812.5 421.5 809.1 415.6 805.0 410.0C800.9 404.4 797.5 397.9 792.5 392.5C787.5 387.1 781.2 382.1 775.0 377.5C768.8 372.9 762.1 369.2 755.0 365.0C747.9 360.8 738.8 356.7 732.5 352.5C726.2 348.3 721.1 344.6 717.5 340.0C713.9 335.4 711.4 330.7 711.0 325.0C710.6 319.3 713.3 311.0 715.0 306.0C716.7 301.0 719.3 298.3 721.0 295.0C722.7 291.7 724.6 292.3 725.0 286.0Z" fill="none" stroke="#3a3226" stroke-width="2.3" stroke-linejoin="round"/>
<g><circle cx="876.1" cy="202.3" r="13.4" fill="#f08510"/><circle cx="874.5" cy="198.8" r="13.4" fill="#f5d400"/><circle cx="873.2" cy="197.1" r="11.0" fill="#fff200"/><circle cx="874.0" cy="194.0" r="5.9" fill="url(#wh)"/></g>
<g><circle cx="845.3" cy="210.4" r="9.8" fill="#f08510"/><circle cx="844.1" cy="207.9" r="9.8" fill="#f5d400"/><circle cx="843.1" cy="206.6" r="8.0" fill="#fff200"/><circle cx="843.7" cy="204.4" r="4.3" fill="url(#wh)"/></g>
<g><circle cx="864.9" cy="382.5" r="9.5" fill="#f08510"/><circle cx="863.8" cy="380.0" r="9.5" fill="#f5d400"/><circle cx="862.8" cy="378.8" r="7.7" fill="#fff200"/><circle cx="863.4" cy="376.6" r="4.2" fill="url(#wh)"/></g>
<g><circle cx="885.7" cy="383.0" r="16.3" fill="#f08510"/><circle cx="883.8" cy="378.8" r="16.3" fill="#f5d400"/><circle cx="882.1" cy="376.6" r="13.3" fill="#fff200"/><circle cx="883.1" cy="372.9" r="7.2" fill="url(#wh)"/></g>
<g><circle cx="837.4" cy="363.0" r="9.5" fill="#f08510"/><circle cx="836.2" cy="360.5" r="9.5" fill="#f5d400"/><circle cx="835.3" cy="359.3" r="7.7" fill="#fff200"/><circle cx="835.9" cy="357.1" r="4.2" fill="url(#wh)"/></g>
<path d="M800.5 248 C801 238 806 229 815.4 222.6 C816 220 816 218.5 816.5 217.6 C828 214 842 212.5 856.2 211.5 C862 210.5 868 209.5 873.9 208.2 C880 206 890 205 900.4 206.6 C908 208 914 212 918.1 216.5 L930 347.5 C918 362 900 370 880 370.5 C850 370 825 350 818.75 311.25 Z" fill="#ff9523"/>
<path d="M815 222.8 C815.5 220.5 816 219 816.5 217.6 C822 215 828 214 834.2 213.2 C842 212.5 849 212 856.2 211.5 C862 210.5 868 209.5 873.9 208.2 C871 210.5 869 213 867.3 215.4 C864 218.5 861 221.5 858.5 224.2 L855.7 227 C853 225 851 223.5 848.5 222 C845 220.5 842 219.8 838.6 219.3 C834 218.5 830 218.5 826.4 218.9 C822 220 818.5 221.2 815 222.8 Z" fill="#ee7d0c"/>
<path d="M841 225.5 C846 223 851 224.5 855.7 227 C853.5 232 851.5 238 850.7 243.5 C847.5 238 844 231 841 225.5 Z" fill="#ee7d0c"/>
<g><circle cx="804.8" cy="232.6" r="15.2" fill="#f08510"/><circle cx="803.0" cy="228.6" r="15.2" fill="#f5d400"/><circle cx="801.5" cy="226.6" r="12.5" fill="#fff200"/><circle cx="802.4" cy="223.1" r="6.7" fill="url(#wh)"/></g>
<g><circle cx="823.7" cy="288.6" r="10.0" fill="#f08510"/><circle cx="822.5" cy="286.0" r="10.0" fill="#f5d400"/><circle cx="821.5" cy="284.7" r="8.2" fill="#fff200"/><circle cx="822.1" cy="282.4" r="4.4" fill="url(#wh)"/></g>
<g><circle cx="829.6" cy="309.3" r="13.7" fill="#f08510"/><circle cx="828.0" cy="305.8" r="13.7" fill="#f5d400"/><circle cx="826.6" cy="304.0" r="11.2" fill="#fff200"/><circle cx="827.5" cy="300.8" r="6.0" fill="url(#wh)"/></g>
<path d="M804.9 240.2C806.1 238.6 809.1 233.4 812.1 230.9C815.1 228.4 819.4 226.5 823.1 225.3C826.8 224.1 830.7 223.7 834.2 223.7C837.7 223.7 842.6 225.0 844.3 225.3C844.3 226.3 845.8 230.4 844.1 231.1C842.4 231.8 837.7 229.2 834.2 229.2C830.7 229.2 826.8 229.7 823.1 230.9C819.4 232.1 815.1 234.9 812.1 236.4C809.1 237.9 806.1 239.6 804.9 240.2Z" fill="#fff"/>
<path d="M860.7 239.1C861.8 237.0 864.7 230.0 867.3 226.4C869.9 222.8 872.8 220.0 876.1 217.6C879.4 215.2 883.9 213.2 887.2 212.1C890.5 211.0 893.2 210.8 896.0 211.0C898.8 211.2 902.6 213.1 903.9 213.5C903.9 213.9 905.4 215.4 903.7 216.1C902.0 216.8 896.9 216.6 893.8 217.6C890.7 218.6 888.0 220.2 885.0 222.0C882.0 223.8 879.1 226.4 876.1 228.6C873.1 230.8 869.9 233.6 867.3 235.3C864.7 237.1 861.8 238.5 860.7 239.1Z" fill="#fff"/>
<path d="M838 350 C850 358 865 362 880 363.5 C895 364 905 364 915 361 C905 368 893 370 880 369.5 C862 368 848 361 838 350 Z" fill="#fff"/>
<path d="M800.5 248.0C800.7 246.6 800.6 242.8 801.6 239.7C802.6 236.6 804.3 232.5 806.6 229.7C808.9 226.8 812.1 224.4 815.4 222.6C818.7 220.8 822.5 219.4 826.4 218.9C830.3 218.4 834.9 218.8 838.6 219.3C842.3 219.8 845.6 220.7 848.5 222.0C851.4 223.3 854.5 226.2 855.7 227.0" fill="none" stroke="#3a3226" stroke-width="2.1" stroke-linecap="round"/>
<path d="M850.7 243.5C851.1 241.9 851.6 237.4 852.9 234.2C854.2 231.0 856.1 227.3 858.5 224.2C860.9 221.1 864.0 218.0 867.3 215.4C870.6 212.8 874.6 210.5 878.3 208.8C882.0 207.2 885.7 205.9 889.4 205.5C893.1 205.1 896.9 205.8 900.4 206.6C903.9 207.4 907.3 208.8 910.3 210.4C913.2 212.1 916.8 215.5 918.1 216.5" fill="none" stroke="#3a3226" stroke-width="2.1" stroke-linecap="round"/>
<path d="M818.8 311.2C818.8 313.5 817.7 319.8 818.8 325.0C819.8 330.2 821.5 337.1 825.0 342.5C828.5 347.9 834.2 353.3 840.0 357.5C845.8 361.7 853.3 365.3 860.0 367.5C866.7 369.7 873.3 370.5 880.0 370.5C886.7 370.5 893.8 369.5 900.0 367.5C906.2 365.5 912.5 362.1 917.5 358.8C922.5 355.4 927.9 349.4 930.0 347.5" fill="none" stroke="#3a3226" stroke-width="2.1" stroke-linecap="round"/>
<g><circle cx="883.3" cy="160.2" r="10.5" fill="#f08510"/><circle cx="882.0" cy="157.5" r="10.5" fill="#f5d400"/><circle cx="881.0" cy="156.1" r="8.6" fill="#fff200"/><circle cx="881.6" cy="153.7" r="4.6" fill="url(#wh)"/></g>
<g><circle cx="851.6" cy="179.5" r="13.7" fill="#f08510"/><circle cx="850.0" cy="176.0" r="13.7" fill="#f5d400"/><circle cx="848.6" cy="174.2" r="11.2" fill="#fff200"/><circle cx="849.5" cy="171.1" r="6.0" fill="url(#wh)"/></g>
<g><circle cx="923.2" cy="175.6" r="10.0" fill="#f08510"/><circle cx="922.0" cy="173.0" r="10.0" fill="#f5d400"/><circle cx="921.0" cy="171.7" r="8.2" fill="#fff200"/><circle cx="921.6" cy="169.4" r="4.4" fill="url(#wh)"/></g>
<g><circle cx="959.9" cy="170.6" r="10.0" fill="#f08510"/><circle cx="958.8" cy="168.0" r="10.0" fill="#f5d400"/><circle cx="957.8" cy="166.7" r="8.2" fill="#fff200"/><circle cx="958.4" cy="164.4" r="4.4" fill="url(#wh)"/></g>
<g><circle cx="896.2" cy="187.6" r="10.0" fill="#f08510"/><circle cx="895.0" cy="185.0" r="10.0" fill="#f5d400"/><circle cx="894.0" cy="183.7" r="8.2" fill="#fff200"/><circle cx="894.6" cy="181.4" r="4.4" fill="url(#wh)"/></g>
<g><circle cx="949.9" cy="197.6" r="10.0" fill="#f08510"/><circle cx="948.8" cy="195.0" r="10.0" fill="#f5d400"/><circle cx="947.8" cy="193.7" r="8.2" fill="#fff200"/><circle cx="948.4" cy="191.4" r="4.4" fill="url(#wh)"/></g>
<g><circle cx="811.1" cy="200.0" r="9.5" fill="#f08510"/><circle cx="810.0" cy="197.5" r="9.5" fill="#f5d400"/><circle cx="809.1" cy="196.3" r="7.7" fill="#fff200"/><circle cx="809.6" cy="194.1" r="4.2" fill="url(#wh)"/></g>
<g><circle cx="797.1" cy="202.2" r="13.1" fill="#f08510"/><circle cx="795.5" cy="198.8" r="13.1" fill="#f5d400"/><circle cx="794.2" cy="197.0" r="10.8" fill="#fff200"/><circle cx="795.0" cy="194.0" r="5.8" fill="url(#wh)"/></g>
<g><circle cx="926.7" cy="214.6" r="10.0" fill="#f08510"/><circle cx="925.5" cy="212.0" r="10.0" fill="#f5d400"/><circle cx="924.5" cy="210.7" r="8.2" fill="#fff200"/><circle cx="925.1" cy="208.4" r="4.4" fill="url(#wh)"/></g>
<g><circle cx="980.6" cy="217.2" r="13.1" fill="#f08510"/><circle cx="979.0" cy="213.8" r="13.1" fill="#f5d400"/><circle cx="977.7" cy="212.0" r="10.8" fill="#fff200"/><circle cx="978.5" cy="209.0" r="5.8" fill="url(#wh)"/></g>
<g><circle cx="961.2" cy="226.3" r="10.0" fill="#f08510"/><circle cx="960.0" cy="223.8" r="10.0" fill="#f5d400"/><circle cx="959.0" cy="222.5" r="8.2" fill="#fff200"/><circle cx="959.6" cy="220.2" r="4.4" fill="url(#wh)"/></g>
<g><circle cx="746.9" cy="231.6" r="10.0" fill="#f08510"/><circle cx="745.8" cy="229.0" r="10.0" fill="#f5d400"/><circle cx="744.8" cy="227.7" r="8.2" fill="#fff200"/><circle cx="745.4" cy="225.4" r="4.4" fill="url(#wh)"/></g>
<g><circle cx="913.5" cy="244.0" r="16.3" fill="#f08510"/><circle cx="911.5" cy="239.8" r="16.3" fill="#f5d400"/><circle cx="909.9" cy="237.7" r="13.3" fill="#fff200"/><circle cx="910.8" cy="233.9" r="7.2" fill="url(#wh)"/></g>
<g><circle cx="880.3" cy="246.2" r="16.3" fill="#f08510"/><circle cx="878.3" cy="242.0" r="16.3" fill="#f5d400"/><circle cx="876.7" cy="239.9" r="13.3" fill="#fff200"/><circle cx="877.6" cy="236.1" r="7.2" fill="url(#wh)"/></g>
<g><circle cx="830.4" cy="251.2" r="10.0" fill="#f08510"/><circle cx="829.2" cy="248.6" r="10.0" fill="#f5d400"/><circle cx="828.2" cy="247.3" r="8.2" fill="#fff200"/><circle cx="828.8" cy="245.0" r="4.4" fill="url(#wh)"/></g>
<g><circle cx="769.2" cy="252.1" r="10.0" fill="#f08510"/><circle cx="768.0" cy="249.5" r="10.0" fill="#f5d400"/><circle cx="767.0" cy="248.2" r="8.2" fill="#fff200"/><circle cx="767.6" cy="245.9" r="4.4" fill="url(#wh)"/></g>
<g><circle cx="926.7" cy="261.3" r="10.0" fill="#f08510"/><circle cx="925.5" cy="258.8" r="10.0" fill="#f5d400"/><circle cx="924.5" cy="257.5" r="8.2" fill="#fff200"/><circle cx="925.1" cy="255.2" r="4.4" fill="url(#wh)"/></g>
<g><circle cx="951.7" cy="259.6" r="10.0" fill="#f08510"/><circle cx="950.5" cy="257.0" r="10.0" fill="#f5d400"/><circle cx="949.5" cy="255.7" r="8.2" fill="#fff200"/><circle cx="950.1" cy="253.4" r="4.4" fill="url(#wh)"/></g>
<g><circle cx="993.0" cy="259.7" r="16.3" fill="#f08510"/><circle cx="991.0" cy="255.5" r="16.3" fill="#f5d400"/><circle cx="989.4" cy="253.4" r="13.3" fill="#fff200"/><circle cx="990.3" cy="249.6" r="7.2" fill="url(#wh)"/></g>
<g><circle cx="1024.9" cy="270.6" r="10.0" fill="#f08510"/><circle cx="1023.8" cy="268.0" r="10.0" fill="#f5d400"/><circle cx="1022.8" cy="266.7" r="8.2" fill="#fff200"/><circle cx="1023.4" cy="264.4" r="4.4" fill="url(#wh)"/></g>
<g><circle cx="795.0" cy="275.9" r="16.8" fill="#f08510"/><circle cx="793.0" cy="271.5" r="16.8" fill="#f5d400"/><circle cx="791.3" cy="269.3" r="13.8" fill="#fff200"/><circle cx="792.3" cy="265.5" r="7.4" fill="url(#wh)"/></g>
<g><circle cx="864.9" cy="283.6" r="10.0" fill="#f08510"/><circle cx="863.8" cy="281.0" r="10.0" fill="#f5d400"/><circle cx="862.8" cy="279.7" r="8.2" fill="#fff200"/><circle cx="863.4" cy="277.4" r="4.4" fill="url(#wh)"/></g>
<g><circle cx="1003.7" cy="290.1" r="10.0" fill="#f08510"/><circle cx="1002.5" cy="287.5" r="10.0" fill="#f5d400"/><circle cx="1001.5" cy="286.2" r="8.2" fill="#fff200"/><circle cx="1002.1" cy="283.9" r="4.4" fill="url(#wh)"/></g>
<g><circle cx="747.4" cy="295.1" r="10.0" fill="#f08510"/><circle cx="746.2" cy="292.5" r="10.0" fill="#f5d400"/><circle cx="745.3" cy="291.2" r="8.2" fill="#fff200"/><circle cx="745.9" cy="288.9" r="4.4" fill="url(#wh)"/></g>
<g><circle cx="752.9" cy="316.0" r="13.7" fill="#f08510"/><circle cx="751.2" cy="312.5" r="13.7" fill="#f5d400"/><circle cx="749.9" cy="310.7" r="11.2" fill="#fff200"/><circle cx="750.7" cy="307.6" r="6.0" fill="url(#wh)"/></g>
<g><circle cx="733.7" cy="326.3" r="10.0" fill="#f08510"/><circle cx="732.5" cy="323.8" r="10.0" fill="#f5d400"/><circle cx="731.5" cy="322.5" r="8.2" fill="#fff200"/><circle cx="732.1" cy="320.2" r="4.4" fill="url(#wh)"/></g>
<g><circle cx="786.9" cy="317.1" r="10.0" fill="#f08510"/><circle cx="785.8" cy="314.5" r="10.0" fill="#f5d400"/><circle cx="784.8" cy="313.2" r="8.2" fill="#fff200"/><circle cx="785.4" cy="310.9" r="4.4" fill="url(#wh)"/></g>
<g><circle cx="893.2" cy="298.3" r="10.0" fill="#f08510"/><circle cx="892.0" cy="295.8" r="10.0" fill="#f5d400"/><circle cx="891.0" cy="294.5" r="8.2" fill="#fff200"/><circle cx="891.6" cy="292.2" r="4.4" fill="url(#wh)"/></g>
<g><circle cx="864.5" cy="327.4" r="16.8" fill="#f08510"/><circle cx="862.5" cy="323.0" r="16.8" fill="#f5d400"/><circle cx="860.8" cy="320.8" r="13.8" fill="#fff200"/><circle cx="861.8" cy="317.0" r="7.4" fill="url(#wh)"/></g>
<g><circle cx="894.2" cy="329.6" r="10.0" fill="#f08510"/><circle cx="893.0" cy="327.0" r="10.0" fill="#f5d400"/><circle cx="892.0" cy="325.7" r="8.2" fill="#fff200"/><circle cx="892.6" cy="323.4" r="4.4" fill="url(#wh)"/></g>
<g><circle cx="936.9" cy="308.6" r="10.0" fill="#f08510"/><circle cx="935.8" cy="306.0" r="10.0" fill="#f5d400"/><circle cx="934.8" cy="304.7" r="8.2" fill="#fff200"/><circle cx="935.4" cy="302.4" r="4.4" fill="url(#wh)"/></g>
<g><circle cx="959.4" cy="295.1" r="10.0" fill="#f08510"/><circle cx="958.2" cy="292.5" r="10.0" fill="#f5d400"/><circle cx="957.3" cy="291.2" r="8.2" fill="#fff200"/><circle cx="957.9" cy="288.9" r="4.4" fill="url(#wh)"/></g>
<g><circle cx="985.7" cy="317.6" r="10.0" fill="#f08510"/><circle cx="984.5" cy="315.0" r="10.0" fill="#f5d400"/><circle cx="983.5" cy="313.7" r="8.2" fill="#fff200"/><circle cx="984.1" cy="311.4" r="4.4" fill="url(#wh)"/></g>
<g><circle cx="949.9" cy="332.5" r="9.5" fill="#f08510"/><circle cx="948.8" cy="330.0" r="9.5" fill="#f5d400"/><circle cx="947.8" cy="328.8" r="7.7" fill="#fff200"/><circle cx="948.4" cy="326.6" r="4.2" fill="url(#wh)"/></g>
<g><circle cx="935.8" cy="334.7" r="13.1" fill="#f08510"/><circle cx="934.2" cy="331.2" r="13.1" fill="#f5d400"/><circle cx="932.9" cy="329.5" r="10.8" fill="#fff200"/><circle cx="933.7" cy="326.5" r="5.8" fill="url(#wh)"/></g>
<g><circle cx="990.8" cy="346.4" r="16.8" fill="#f08510"/><circle cx="988.8" cy="342.0" r="16.8" fill="#f5d400"/><circle cx="987.1" cy="339.8" r="13.8" fill="#fff200"/><circle cx="988.1" cy="336.0" r="7.4" fill="url(#wh)"/></g>
<g><circle cx="802.4" cy="342.5" r="9.5" fill="#f08510"/><circle cx="801.2" cy="340.0" r="9.5" fill="#f5d400"/><circle cx="800.3" cy="338.8" r="7.7" fill="#fff200"/><circle cx="800.9" cy="336.6" r="4.2" fill="url(#wh)"/></g>
<g><circle cx="787.9" cy="344.8" r="13.7" fill="#f08510"/><circle cx="786.2" cy="341.2" r="13.7" fill="#f5d400"/><circle cx="784.9" cy="339.5" r="11.2" fill="#fff200"/><circle cx="785.7" cy="336.3" r="6.0" fill="url(#wh)"/></g>
<g><circle cx="820.7" cy="355.1" r="10.0" fill="#f08510"/><circle cx="819.5" cy="352.5" r="10.0" fill="#f5d400"/><circle cx="818.5" cy="351.2" r="8.2" fill="#fff200"/><circle cx="819.1" cy="348.9" r="4.4" fill="url(#wh)"/></g>
<g><circle cx="957.0" cy="370.6" r="16.8" fill="#f08510"/><circle cx="955.0" cy="366.2" r="16.8" fill="#f5d400"/><circle cx="953.3" cy="364.1" r="13.8" fill="#fff200"/><circle cx="954.3" cy="360.2" r="7.4" fill="url(#wh)"/></g>
<g><circle cx="929.9" cy="374.6" r="10.0" fill="#f08510"/><circle cx="928.8" cy="372.0" r="10.0" fill="#f5d400"/><circle cx="927.8" cy="370.7" r="8.2" fill="#fff200"/><circle cx="928.4" cy="368.4" r="4.4" fill="url(#wh)"/></g>
<g><circle cx="838.3" cy="402.4" r="16.8" fill="#f08510"/><circle cx="836.2" cy="398.0" r="16.8" fill="#f5d400"/><circle cx="834.6" cy="395.8" r="13.8" fill="#fff200"/><circle cx="835.6" cy="392.0" r="7.4" fill="url(#wh)"/></g>
<path d="M993.0 203.0C993.2 204.2 993.9 206.9 994.2 210.5C994.5 214.1 994.6 219.7 994.9 224.3C995.2 228.9 995.4 234.1 996.2 238.2C997.0 242.3 998.5 246.5 999.7 249.0C1000.9 251.5 1002.9 252.3 1003.5 253.0" fill="none" stroke="#3a3226" stroke-width="2.1" stroke-linecap="round"/>
<path d="M751.7 246.0C751.0 247.7 749.1 252.8 747.5 256.0C745.9 259.2 744.4 261.9 742.3 265.0C740.2 268.1 737.4 271.4 735.0 274.5C732.6 277.6 729.6 280.9 727.8 283.5C726.0 286.1 724.6 288.9 724.0 290.0" fill="none" stroke="#3a3226" stroke-width="2.1" stroke-linecap="round"/>
<path d="M746.2 247.3L751.5 248.2C754.5 249.5 754 252.6 750 253.4L740.5 252.5" fill="none" stroke="#efe6b0" stroke-width="2" stroke-linecap="round"/>
<path d="M923.5 350.5L930.5 353" fill="none" stroke="#b9d9c8" stroke-width="1.6" stroke-linecap="round"/>
</g>
<line x1="226.5" y1="174.1" x2="226.5" y2="210.4" stroke="#000" stroke-width="1.2" marker-end="url(#ah)"/>
<line x1="226.5" y1="466" x2="226.5" y2="502" stroke="#000" stroke-width="1.2" marker-end="url(#ah)"/>
<line x1="892.3" y1="440.5" x2="892.3" y2="476.3" stroke="#000" stroke-width="1.2" marker-end="url(#ah)"/>
<line x1="688.5" y1="164.3" x2="752.9" y2="207.7" stroke="#000" stroke-width="1.2" marker-end="url(#ah)"/>
<line x1="1050" y1="165" x2="1003.2" y2="237" stroke="#000" stroke-width="1.2" marker-end="url(#ah)"/>
</svg>
</body>
</html>
